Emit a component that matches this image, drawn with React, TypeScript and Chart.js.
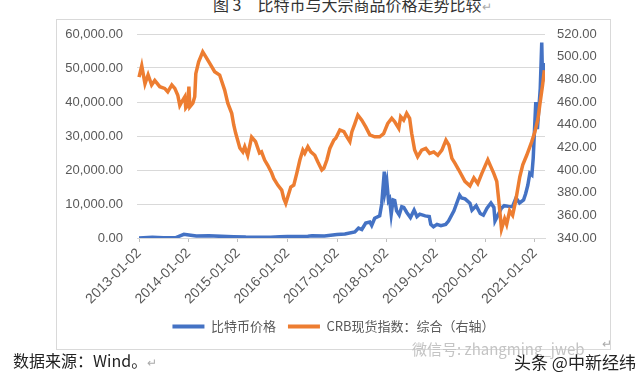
import React, { useEffect, useRef } from "react";
import { Chart, registerables } from "chart.js";

Chart.register(...registerables);

const tickLabels = [
  "2013-01-02", "2014-01-02", "2015-01-02", "2016-01-02", "2017-01-02",
  "2018-01-02", "2019-01-02", "2020-01-02", "2021-01-02",
];

const seriesNames = ["比特币价格", "CRB现货指数：综合（右轴）"];

const btcDates = [
  "2013-01-02", "2013-04-10", "2013-07-01", "2013-10-01", "2013-11-29", "2014-01-05",
  "2014-03-01", "2014-06-01", "2014-09-01", "2014-12-01", "2015-03-01", "2015-06-01",
  "2015-09-01", "2015-11-05", "2016-01-01", "2016-06-01", "2016-07-01", "2016-10-01",
  "2017-01-02", "2017-03-01", "2017-05-14", "2017-06-10", "2017-07-04", "2017-08-02",
  "2017-09-01", "2017-09-15", "2017-10-07", "2017-11-13", "2017-11-28", "2017-12-17",
  "2017-12-24", "2018-01-05", "2018-01-17", "2018-01-25", "2018-02-06", "2018-02-20",
  "2018-03-04", "2018-03-18", "2018-04-06", "2018-04-25", "2018-05-10", "2018-06-01",
  "2018-06-28", "2018-07-25", "2018-08-15", "2018-09-05", "2018-10-15", "2018-11-14",
  "2018-11-25", "2018-12-15", "2019-01-10", "2019-02-08", "2019-03-15", "2019-04-05",
  "2019-05-15", "2019-06-26", "2019-07-10", "2019-08-05", "2019-09-10", "2019-09-25",
  "2019-10-26", "2019-11-25", "2019-12-18", "2020-01-14", "2020-02-12", "2020-03-05",
  "2020-03-13", "2020-04-01", "2020-04-30", "2020-05-20", "2020-06-20", "2020-07-20",
  "2020-08-15", "2020-09-10", "2020-10-10", "2020-10-25", "2020-11-10", "2020-11-25",
  "2020-12-10", "2020-12-20", "2021-01-08", "2021-01-20", "2021-02-10", "2021-02-21",
  "2021-02-27", "2021-03-10",
];
const btcValues = [
  13, 200, 90, 130, 1100, 900,
  600, 650, 480, 380, 260, 230,
  240, 400, 430, 550, 670, 610,
  1000, 1200, 1800, 2900, 2500, 4400,
  4700, 3700, 5800, 6500, 10000, 19500,
  14000, 16500, 11000, 11500, 7000, 11200,
  11000, 8000, 6800, 9200, 9000, 7500,
  6000, 8200, 6300, 7000, 6500, 6300,
  4000, 3300, 4000, 3600, 4000, 5000,
  8000, 12600, 11800, 11500, 10200, 8200,
  9500, 7200, 6700, 8800, 10300, 9000,
  5000, 6500, 8800, 9500, 9300, 9200,
  11800, 10300, 11200, 13000, 15500, 19000,
  18500, 23500, 40000, 32000, 44000, 57500,
  46000, 51500,
];

const crbDates = [
  "2013-01-02", "2013-01-22", "2013-02-15", "2013-03-10", "2013-04-05", "2013-04-28",
  "2013-06-04", "2013-07-10", "2013-08-02", "2013-08-17", "2013-09-01", "2013-09-23",
  "2013-10-15", "2013-10-30", "2013-11-13", "2013-12-06", "2013-12-13", "2013-12-28",
  "2014-01-05", "2014-01-12", "2014-02-03", "2014-02-17", "2014-02-25", "2014-03-18",
  "2014-04-17", "2014-05-09", "2014-06-08", "2014-07-14", "2014-08-20", "2014-09-26",
  "2014-10-19", "2014-11-17", "2014-12-02", "2014-12-16", "2015-01-16", "2015-02-07",
  "2015-02-21", "2015-03-15", "2015-04-13", "2015-05-12", "2015-06-10", "2015-06-25",
  "2015-07-18", "2015-08-09", "2015-09-08", "2015-09-23", "2015-10-23", "2015-11-21",
  "2015-12-06", "2015-12-21", "2016-01-05", "2016-01-27", "2016-02-18", "2016-03-11",
  "2016-04-03", "2016-04-25", "2016-05-09", "2016-06-01", "2016-06-23", "2016-07-22",
  "2016-08-13", "2016-09-12", "2016-09-27", "2016-10-19", "2016-11-10", "2016-12-10",
  "2016-12-24", "2017-01-23", "2017-02-22", "2017-03-16", "2017-04-07", "2017-04-22",
  "2017-05-14", "2017-06-05", "2017-07-04", "2017-08-02", "2017-09-01", "2017-10-07",
  "2017-11-13", "2017-12-12", "2018-01-11", "2018-02-10", "2018-03-04", "2018-04-03",
  "2018-04-17", "2018-05-09", "2018-05-31", "2018-06-22", "2018-07-07", "2018-07-29",
  "2018-08-20", "2018-09-19", "2018-10-19", "2018-11-17", "2018-12-17", "2019-01-16",
  "2019-02-15", "2019-03-17", "2019-04-08", "2019-04-30", "2019-05-22", "2019-06-20",
  "2019-08-04", "2019-09-10", "2019-10-09", "2019-11-07", "2019-12-07", "2020-01-05",
  "2020-01-20", "2020-02-11", "2020-03-04", "2020-03-26", "2020-04-10", "2020-04-30",
  "2020-05-23", "2020-06-07", "2020-06-29", "2020-07-21", "2020-08-13", "2020-09-12",
  "2020-10-04", "2020-11-02", "2020-12-08", "2021-01-01", "2021-01-24", "2021-02-08",
  "2021-02-27", "2021-03-12",
];
const crbValues = [
  482, 492, 476, 484, 475, 479,
  473.5, 472, 469, 472, 475, 472,
  466, 457, 460, 464.6, 454.7, 457,
  473.5, 455.8, 459, 464.6, 485, 495.5,
  504.3, 500, 494, 486.7, 483.8, 470.5,
  459, 450, 439.7, 432.6, 419.4, 416,
  420.5, 413, 429, 425, 415, 416,
  408.8, 404.4, 397.3, 392.6, 386.7, 382.3,
  375, 370.6, 376.4, 385, 386.7, 397,
  408.8, 417.6, 414.7, 420.5, 416, 413,
  407.3, 400, 401.5, 408.8, 419, 426.4,
  428, 435.3, 433.8, 429.3, 425, 433.8,
  441, 448.5, 444, 438, 431, 429.3,
  429.3, 432, 441, 445.6, 442.6, 436.7,
  447, 444, 450, 445.6, 432.4, 417.6,
  411.7, 417.6, 419, 414.7, 416, 413,
  417.6, 426.4, 422, 410.3, 406, 400,
  390, 386, 393, 388, 397, 405,
  409, 403, 397, 390, 373, 348,
  357, 352, 364, 360, 373, 394,
  404.6, 413, 424.6, 433.5, 445, 458.6,
  474.7, 488,
];

const BASE = Date.UTC(2013, 0, 2);
const toDay = (s: string) => (Date.parse(s) - BASE) / 86400000;
const tickDays = tickLabels.map(toDay);

const FONT = "'Liberation Sans', Arial, sans-serif";
const CJK = "'Noto Sans CJK SC', 'Noto Sans', sans-serif";
const BLUE = "#4472C4";
const ORANGE = "#ED7D31";

export default function App() {
  const ref = useRef<HTMLCanvasElement | null>(null);

  useEffect(() => {
    if (!ref.current) return;
    const chart = new Chart(ref.current, {
      type: "line",
      data: {
        datasets: [
          {
            label: seriesNames[0],
            data: btcDates.map((d, i) => ({ x: toDay(d), y: btcValues[i] })),
            borderColor: BLUE,
            backgroundColor: BLUE,
            borderWidth: 3.5,
            pointRadius: 0,
            yAxisID: "y",
            order: 1,
          },
          {
            label: seriesNames[1],
            data: crbDates.map((d, i) => ({ x: toDay(d), y: crbValues[i] })),
            borderColor: ORANGE,
            backgroundColor: ORANGE,
            borderWidth: 3.5,
            pointRadius: 0,
            yAxisID: "y1",
            order: 0,
          },
        ],
      },
      options: {
        animation: false,
        responsive: false,
        maintainAspectRatio: false,
        layout: { padding: { top: 14, bottom: 6, left: 0, right: 0 } },
        plugins: {
          tooltip: { enabled: false },
          legend: {
            position: "bottom",
            labels: {
              boxWidth: 32,
              boxHeight: 4,
              padding: 12,
              color: "#595959",
              font: { family: CJK, size: 13 },
              sort: (a: any, b: any) => a.datasetIndex - b.datasetIndex,
              generateLabels: (c: any) =>
                Chart.defaults.plugins.legend.labels
                  .generateLabels(c)
                  .map((it: any) => ({ ...it, lineWidth: 0, fillStyle: it.strokeStyle })),
            },
          },
        },
        scales: {
          x: {
            type: "linear",
            min: -15,
            max: 2996,
            afterBuildTicks: (s: any) => {
              s.ticks = tickDays.map((v) => ({ value: v }));
            },
            afterFit: (s: any) => {
              s.height = 70;
            },
            ticks: {
              autoSkip: false,
              minRotation: 45,
              maxRotation: 45,
              padding: 3,
              color: "#595959",
              font: { family: FONT, size: 14 },
              callback: (v: any) => {
                const i = tickDays.indexOf(Number(v));
                return i >= 0 ? tickLabels[i] : "";
              },
            },
            grid: {
              drawOnChartArea: false,
              drawTicks: true,
              tickLength: 4,
              color: "#BFBFBF",
            },
            border: { display: true, color: "#D9D9D9" },
          },
          y: {
            position: "left",
            min: 0,
            max: 60000,
            afterFit: (s: any) => {
              s.width = 80;
            },
            ticks: {
              stepSize: 10000,
              padding: 0,
              color: "#595959",
              font: { family: FONT, size: 13 },
              callback: (v: any) =>
                Number(v).toLocaleString("en-US", {
                  minimumFractionDigits: 2,
                  maximumFractionDigits: 2,
                }),
            },
            grid: {
              color: "#D9D9D9",
              drawTicks: true,
              tickLength: 14,
              tickColor: "rgba(0,0,0,0)",
            },
            border: { display: false },
          },
          y1: {
            position: "right",
            min: 340,
            max: 520,
            afterFit: (s: any) => {
              s.width = 65;
            },
            ticks: {
              stepSize: 20,
              padding: 0,
              color: "#595959",
              font: { family: FONT, size: 13 },
              callback: (v: any) => Number(v).toFixed(2),
            },
            grid: {
              drawOnChartArea: false,
              drawTicks: true,
              tickLength: 12,
              tickColor: "rgba(0,0,0,0)",
            },
            border: { display: false },
          },
        },
      },
    });
    return () => chart.destroy();
  }, []);

  return (
    <div
      style={{
        position: "absolute",
        left: 0,
        top: 0,
        width: 640,
        height: 374,
        overflow: "hidden",
        background: "#fff",
        fontFamily: CJK,
      }}
    >
      <div
        style={{
          position: "absolute",
          left: 213,
          top: -4,
          fontSize: 16,
          lineHeight: "16px",
          color: "#333",
          whiteSpace: "nowrap",
        }}
      >
        图 3{"\u3000"}比特币与大宗商品价格走势比较
        <span style={{ color: "#aaa", fontSize: 12 }}>↵</span>
      </div>
      <div
        style={{
          position: "absolute",
          left: 56,
          top: 19,
          width: 555,
          height: 331,
          border: "1px solid #D9D9D9",
          boxSizing: "border-box",
        }}
      />
      <canvas
        ref={ref}
        width={553}
        height={329}
        style={{ position: "absolute", left: 57, top: 20, width: 553, height: 329 }}
      />
      <div
        style={{
          position: "absolute",
          left: 13,
          top: 350,
          fontSize: 16,
          lineHeight: "20px",
          color: "#222",
          whiteSpace: "nowrap",
        }}
      >
        数据来源：Wind。<span style={{ color: "#aaa", fontSize: 12 }}>↵</span>
      </div>
      <div
        style={{
          position: "absolute",
          left: 412,
          top: 340,
          fontSize: 15,
          lineHeight: "18px",
          color: "#c4c4c4",
          whiteSpace: "nowrap",
        }}
      >
        微信号: zhangming_jweb
      </div>
      <div
        style={{
          position: "absolute",
          left: 602,
          top: 334,
          fontSize: 12,
          color: "#aaa",
        }}
      >
        ↵
      </div>
      <div
        style={{
          position: "absolute",
          left: 514,
          top: 351,
          fontSize: 17,
          lineHeight: "22px",
          color: "#222",
          whiteSpace: "nowrap",
        }}
      >
        头条 @中新经纬
      </div>
    </div>
  );
}
